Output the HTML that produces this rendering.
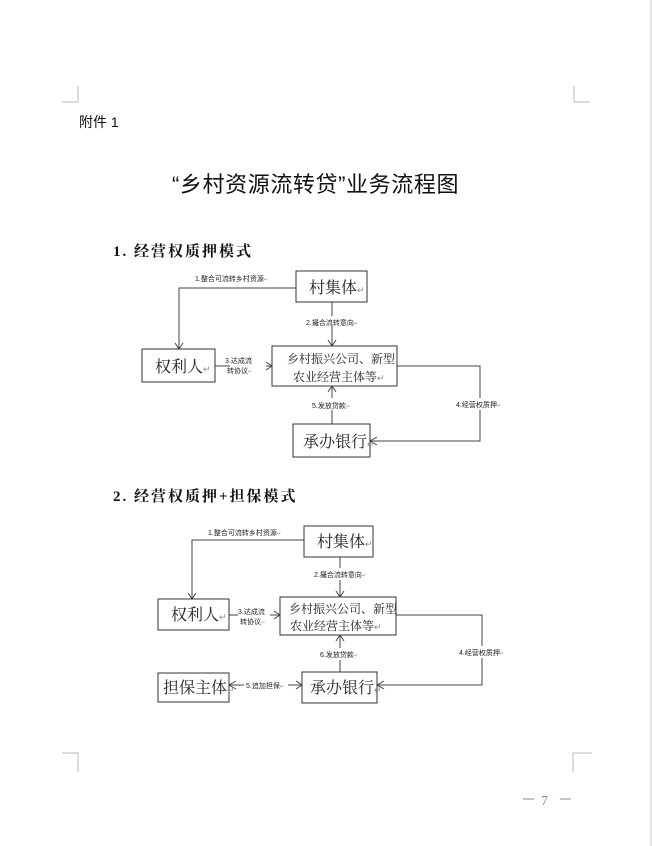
<!DOCTYPE html>
<html><head><meta charset="utf-8"><style>
html,body{margin:0;padding:0;background:#fff;}
body{width:652px;height:846px;overflow:hidden;position:relative;}
svg{position:absolute;left:0;top:0;}
text{font-family:"Liberation Sans","Noto Sans CJK SC",sans-serif;fill:#111;}
.serif{font-family:"Liberation Serif","Noto Serif CJK SC",serif;}
.box{fill:#fff;stroke:#333;stroke-width:1;}
.ln{fill:none;stroke:#444;stroke-width:1;}
.sm{font-size:7px;fill:#222;}
.bx{font-family:"Liberation Serif","Noto Serif CJK SC",serif;font-size:16px;fill:#222;}
.bx2{font-family:"Liberation Serif","Noto Serif CJK SC",serif;font-size:12px;fill:#222;}
.r{font-size:9px;fill:#888;}
.rs{font-size:5px;fill:#888;}
</style></head><body>
<svg width="652" height="846" viewBox="0 0 652 846">
<line x1="651" y1="0" x2="651" y2="846" stroke="#ccc"/>
<g stroke="#bbb" fill="none">
<path d="M78 86 V102 H62"/>
<path d="M574 86 V102 H590"/>
<path d="M62 753 H78 V772"/>
<path d="M592 753 H573 V772"/>
<path d="M523 799 H534 M560 799 H571" stroke="#888"/>
</g>
<text x="541" y="805" font-size="14" class="serif" style="fill:#7a8aa0">7</text>

<text x="79" y="127" font-size="14">附件 1</text>
<text x="172" y="192" font-size="22" letter-spacing="0.6">“乡村资源流转贷”业务流程图</text>
<text x="113" y="256" font-size="15" class="serif" font-weight="bold" letter-spacing="2">1. 经营权质押模式</text>
<text x="113" y="501" font-size="15" class="serif" font-weight="bold" letter-spacing="2">2. 经营权质押+担保模式</text>

<!-- Diagram 1 -->
<g>
<path class="ln" d="M296 288 H179 V349"/>
<path class="ln" d="M175 343 L179 349 L183 343"/>
<path class="ln" d="M332 302 V346"/>
<path class="ln" d="M328 340 L332 346 L336 340"/>
<path class="ln" d="M215 366 H272"/>
<path class="ln" d="M266 362 L272 366 L266 370"/>
<path class="ln" d="M332 424 V386"/>
<path class="ln" d="M328 392 L332 386 L336 392"/>
<path class="ln" d="M397 366 H480 V441 H370"/>
<path class="ln" d="M377 437 L370 441 L377 445"/>
<rect class="box" x="296" y="271" width="71" height="31"/>
<rect class="box" x="142" y="349" width="73" height="33"/>
<rect class="box" x="272" y="346" width="125" height="40"/>
<rect class="box" x="293" y="424" width="77" height="33"/>
<text class="bx" x="309" y="293">村集体<tspan class="r">↵</tspan></text>
<text class="bx" x="155" y="372">权利人<tspan class="r">↵</tspan></text>
<text class="bx2" x="287" y="363">乡村振兴公司、新型</text>
<text class="bx2" x="293" y="381">农业经营主体等<tspan class="r">↵</tspan></text>
<text class="bx" x="303" y="447">承办银行<tspan class="r">↵</tspan></text>
<rect x="230" y="355" width="36" height="20" fill="#fff"/>
<rect x="306" y="316" width="60" height="10" fill="#fff"/>
<rect x="310" y="398" width="46" height="12" fill="#fff"/>
<rect x="455" y="398" width="52" height="12" fill="#fff"/>
<text class="sm" x="195" y="281">1.整合可流转乡村资源<tspan class="rs">↵</tspan></text>
<text class="sm" x="306" y="325">2.撮合流转意向<tspan class="rs">↵</tspan></text>
<text class="sm" x="225" y="363">3.达成流</text>
<text class="sm" x="227" y="373">转协议<tspan class="rs">↵</tspan></text>
<text class="sm" x="312" y="408">5.发放贷款<tspan class="rs">↵</tspan></text>
<text class="sm" x="456" y="407">4.经营权质押<tspan class="rs">↵</tspan></text>
</g>

<!-- Diagram 2 -->
<g>
<path class="ln" d="M304 540 H192 V599"/>
<path class="ln" d="M188 593 L192 599 L196 593"/>
<path class="ln" d="M340 557 V597"/>
<path class="ln" d="M336 591 L340 597 L344 591"/>
<path class="ln" d="M229 615 H280"/>
<path class="ln" d="M274 611 L280 615 L274 619"/>
<path class="ln" d="M340 672 V635"/>
<path class="ln" d="M336 641 L340 635 L344 641"/>
<path class="ln" d="M396 615 H482 V685 H377"/>
<path class="ln" d="M384 681 L377 685 L384 689"/>
<path class="ln" d="M229 685 H302"/>
<path class="ln" d="M296 681 L302 685 L296 689"/>
<path class="ln" d="M236 681 L229 685 L236 689"/>
<rect class="box" x="304" y="526" width="69" height="31"/>
<rect class="box" x="158" y="599" width="71" height="31"/>
<rect class="box" x="280" y="597" width="116" height="38"/>
<rect class="box" x="158" y="673" width="71" height="29"/>
<rect class="box" x="302" y="672" width="75" height="31"/>
<text class="bx" x="317" y="547">村集体<tspan class="r">↵</tspan></text>
<text class="bx" x="171" y="620">权利人<tspan class="r">↵</tspan></text>
<text class="bx2" x="289" y="613">乡村振兴公司、新型</text>
<text class="bx2" x="290" y="630">农业经营主体等<tspan class="r">↵</tspan></text>
<text class="bx" x="163" y="693">担保主体<tspan class="r">↵</tspan></text>
<text class="bx" x="310" y="693">承办银行<tspan class="r">↵</tspan></text>
<rect x="238" y="605" width="32" height="20" fill="#fff"/>
<rect x="313" y="568" width="62" height="12" fill="#fff"/>
<rect x="318" y="648" width="44" height="12" fill="#fff"/>
<rect x="244" y="680" width="44" height="10" fill="#fff"/>
<rect x="458" y="646" width="50" height="12" fill="#fff"/>
<text class="sm" x="208" y="535">1.整合可流转乡村资源<tspan class="rs">↵</tspan></text>
<text class="sm" x="314" y="577">2.撮合流转意向<tspan class="rs">↵</tspan></text>
<text class="sm" x="238" y="614">3.达成流</text>
<text class="sm" x="240" y="624">转协议<tspan class="rs">↵</tspan></text>
<text class="sm" x="320" y="657">6.发放贷款<tspan class="rs">↵</tspan></text>
<text class="sm" x="459" y="655">4.经营权质押<tspan class="rs">↵</tspan></text>
<text class="sm" x="246" y="688">5.追加担保<tspan class="rs">↵</tspan></text>
</g>
</svg>
</body></html>
